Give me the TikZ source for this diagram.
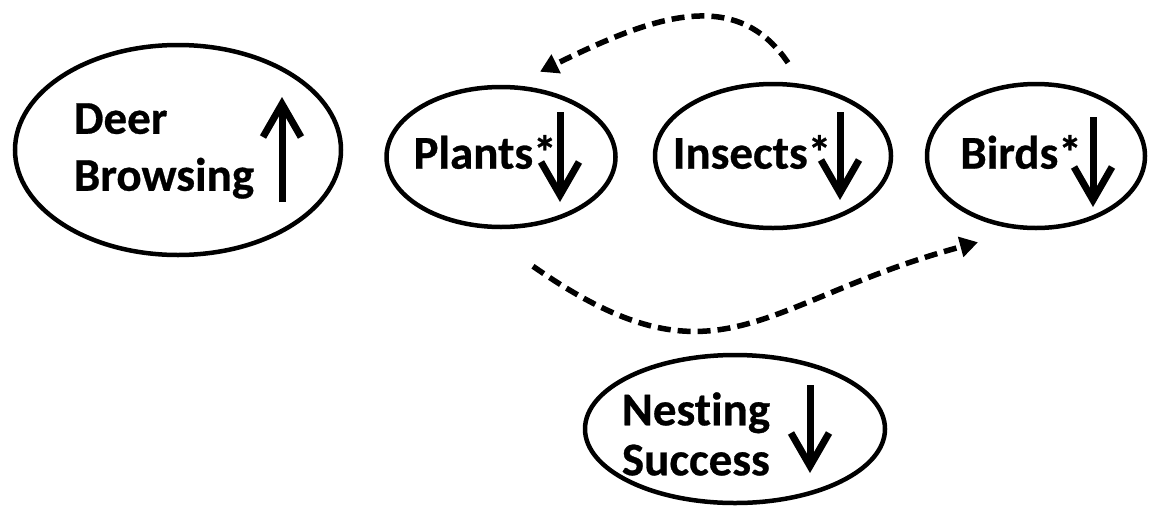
\documentclass[tikz,border=0pt]{standalone}
\usepackage{fontspec}
\setmainfont[Ligatures=NoCommon, BoldFeatures={FakeBold=0.6}]{Carlito}
\usetikzlibrary{shapes.geometric,arrows.meta}

\begin{document}
\begin{tikzpicture}[x=1pt, y=1pt,
  every node/.style={font=\bfseries\fontsize{47}{57}\selectfont},
  blob/.style={draw, ellipse, line width=4.5pt, inner sep=0pt},
  trend/.style={line width=7pt, -{Straight Barb[length=33pt,width=38pt]}},
  link/.style={line width=5.5pt, dash pattern=on 13pt off 7pt, -{Triangle[length=18pt,width=20pt]}}]
  \useasboundingbox (0,0) rectangle (1153,-509);
  \node[blob, minimum width=326, minimum height=210] (deer) at (178,-150) {};
  \node[blob, minimum width=229, minimum height=140] (plants) at (501,-157) {};
  \node[blob, minimum width=236, minimum height=144] (insects) at (773,-156) {};
  \node[blob, minimum width=218, minimum height=144] (birds) at (1036,-156) {};
  \node[blob, minimum width=300, minimum height=148] (nest) at (735,-429) {};
  \node[align=left] (deer-t) at ([shift={(-14,-1)}]deer.center) {Deer\\Browsing};
  \node (plants-t) at ([shift={(-16,5)}]plants.center) {Plants*};
  \node (insects-t) at ([shift={(-21,4)}]insects.center) {Insects*};
  \node (birds-t) at ([shift={(-15,4)}]birds.center) {Birds*};
  \node[align=left] (nest-t) at ([shift={(-39,-5)}]nest.center) {Nesting\\[-7pt]Success};
  \draw[trend] ([shift={(104,-52)}]deer.center) -- ++(0,105);
  \draw[trend] ([shift={(59,45)}]plants.center) -- ++(0,-90);
  \draw[trend] ([shift={(67,44)}]insects.center) -- ++(0,-88);
  \draw[trend] ([shift={(57,39)}]birds.center) -- ++(0,-90);
  \draw[trend] ([shift={(75,44)}]nest.center) -- ++(0,-88);
  \draw[link] ([shift={(15,19)}]insects.north) .. controls +(-53,78) and +(110,54) .. ([shift={(39,13)}]plants.north);
  \draw[link] ([shift={(32,-37)}]plants.south) to[out=-35, in=195, looseness=1.3] ([shift={(-58,-12)}]birds.south);
\end{tikzpicture}
\end{document}
